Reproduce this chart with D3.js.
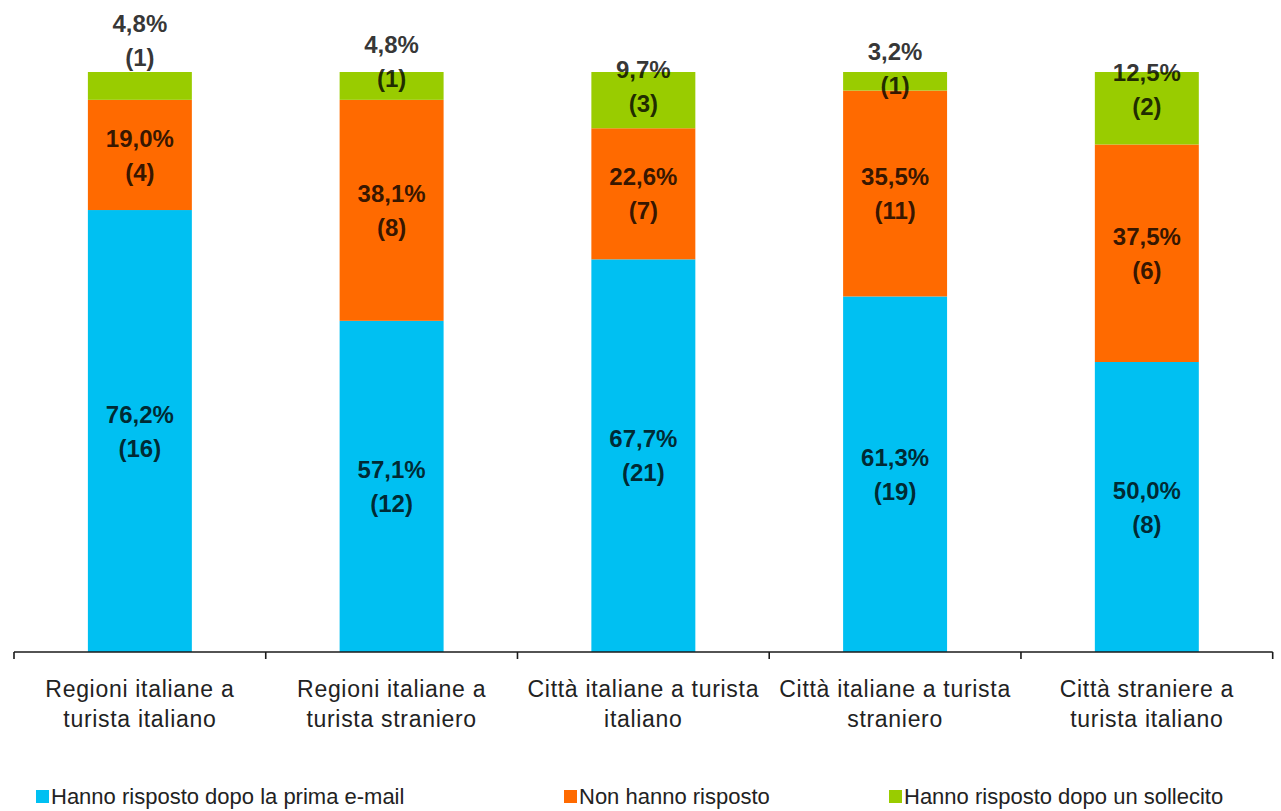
<!DOCTYPE html>
<html>
<head>
<meta charset="utf-8">
<script src="https://cdn.jsdelivr.net/npm/d3@7"></script>
<style>
  html, body { margin: 0; padding: 0; background: #fff; }
  svg { display: block; font-family: "Liberation Sans", Arial, sans-serif; }
</style>
</head>
<body>
<svg id="chart" width="1281" height="811"></svg>
<script>
// ---- data ----
const categories = [
  ["Regioni italiane a", "turista italiano"],
  ["Regioni italiane a", "turista straniero"],
  ["Città italiane a turista", "italiano"],
  ["Città italiane a turista", "straniero"],
  ["Città straniere a", "turista italiano"]
];
const seriesNames = ["Hanno risposto dopo la prima e-mail", "Non hanno risposto", "Hanno risposto dopo un sollecito"];
const firstEmailPct = [76.2, 57.1, 67.7, 61.3, 50.0];
const firstEmailCount = [16, 12, 21, 19, 8];
const noReplyPct = [19.0, 38.1, 22.6, 35.5, 37.5];
const noReplyCount = [4, 8, 7, 11, 6];
const reminderPct = [4.8, 4.8, 9.7, 3.2, 12.5];
const reminderCount = [1, 1, 3, 1, 2];

// ---- layout / style ----
const colors = ["#00c0f2", "#ff6a00", "#99cc00"];
const plotLeft = 14, plotRight = 1272.7, plotTop = 72, plotBottom = 652;
const topLabelNudge = [-46, -25, -14, -13, -19]; // label nudges for the top segment

const svg = d3.select("#chart");

const x = d3.scaleBand()
  .domain(d3.range(categories.length))
  .range([plotLeft, plotRight])
  .paddingInner(0.587)
  .paddingOuter(0.2935);

const y = d3.scaleLinear().domain([0, 100]).range([plotBottom, plotTop]);

const table = categories.map((c, i) => ({
  i,
  values: [
    { pct: firstEmailPct[i], count: firstEmailCount[i] },
    { pct: noReplyPct[i], count: noReplyCount[i] },
    { pct: reminderPct[i], count: reminderCount[i] }
  ]
}));

const stack = d3.stack()
  .keys([0, 1, 2])
  .value((d, k) => d.values[k].pct);
const stacked = stack(table);

// bars
const layers = svg.append("g").selectAll("g")
  .data(stacked)
  .join("g")
  .attr("fill", (d, k) => colors[k]);

layers.selectAll("rect")
  .data(d => d)
  .join("rect")
  .attr("x", d => x(d.data.i))
  .attr("width", x.bandwidth())
  .attr("y", d => y(d[1]))
  .attr("height", d => y(d[0]) - y(d[1]));

// labels
const fmt = v => v.toFixed(1).replace(".", ",") + "%";
stacked.forEach((layer, k) => {
  layer.forEach(d => {
    const cx = x(d.data.i) + x.bandwidth() / 2;
    let cy = (y(d[0]) + y(d[1])) / 2;
    if (k === 2) cy += topLabelNudge[d.data.i];
    const v = d.data.values[k];
    const t = svg.append("text")
      .attr("text-anchor", "middle")
      .attr("font-size", 24)
      .attr("font-weight", "bold")
      .attr("fill", "#000")
      .attr("fill-opacity", 0.8);
    t.append("tspan").attr("x", cx).attr("y", cy - 17).attr("dy", "0.36em").text(fmt(v.pct));
    t.append("tspan").attr("x", cx).attr("y", cy + 17).attr("dy", "0.36em").text("(" + v.count + ")");
  });
});

// axis
const axisG = svg.append("g");
axisG.append("line")
  .attr("x1", plotLeft).attr("x2", plotRight)
  .attr("y1", plotBottom).attr("y2", plotBottom)
  .attr("stroke", "#1a1a1a").attr("stroke-width", 1.6);
const tickXs = d3.range(categories.length + 1).map(i =>
  i < categories.length ? x(i) - x.step() * x.paddingInner() / 2 : plotRight);
axisG.selectAll(".tick")
  .data(tickXs)
  .join("line")
  .attr("x1", d => d).attr("x2", d => d)
  .attr("y1", plotBottom).attr("y2", plotBottom + 7)
  .attr("stroke", "#1a1a1a").attr("stroke-width", 1.6);

// category labels
categories.forEach((lines, i) => {
  const cx = x(i) + x.bandwidth() / 2;
  const t = svg.append("text")
    .attr("text-anchor", "middle")
    .attr("font-size", 23)
    .attr("letter-spacing", 0.7)
    .attr("fill", "#222");
  lines.forEach((ln, j) => {
    t.append("tspan").attr("x", cx).attr("y", 697 + j * 30).text(ln);
  });
});

// legend
const legendX = [36, 564, 889];
seriesNames.forEach((name, k) => {
  const g = svg.append("g").attr("transform", `translate(${legendX[k]},790)`);
  g.append("rect").attr("width", 13).attr("height", 13).attr("fill", colors[k]);
  g.append("text").attr("x", 15).attr("y", 14)
    .attr("font-size", 22).attr("fill", "#222").text(name);
});
</script>
</body>
</html>
